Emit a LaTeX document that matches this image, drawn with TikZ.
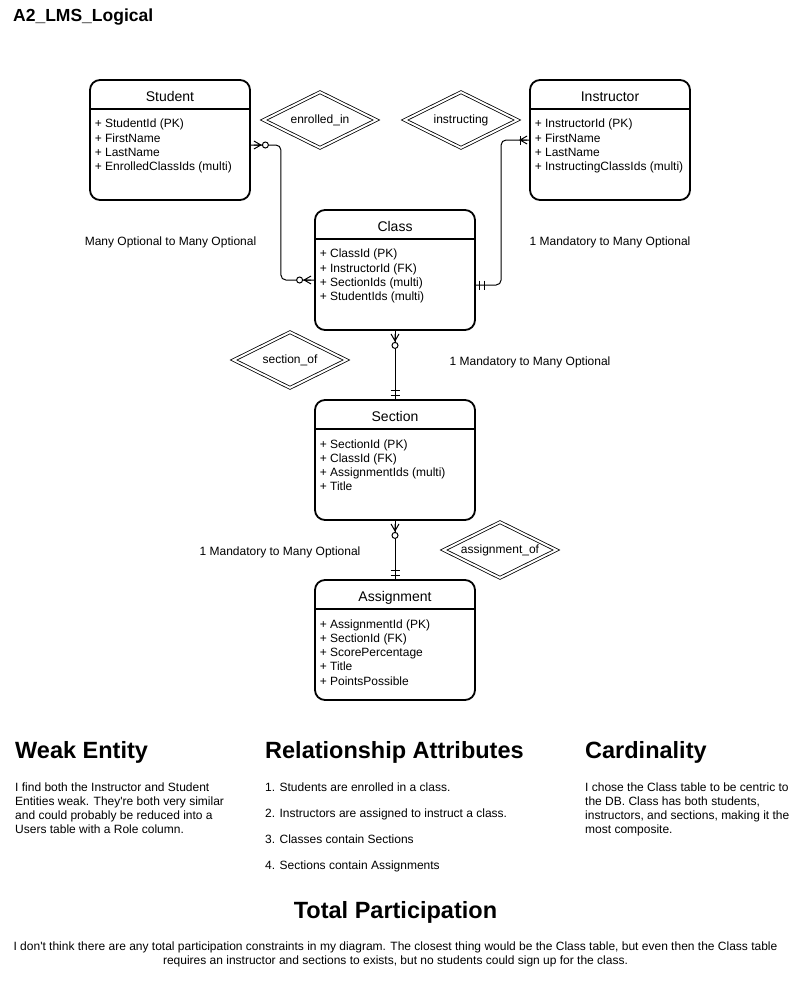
\documentclass[tikz,border=0pt]{standalone}
\usepackage{fontspec}
\setmainfont{Liberation Sans}
\usetikzlibrary{shapes.geometric}
\begin{document}
\begin{tikzpicture}[x=1pt,y=-1pt,
  entity/.style={draw, line width=1.8pt, rounded corners=10pt, minimum width=160pt, minimum height=120pt, inner sep=0},
  hdr/.style={line width=1.8pt},
  etitle/.style={font=\fontsize{14}{16.8}\selectfont, inner sep=0, anchor=base},
  attr/.style={font=\fontsize{12}{14.3}\selectfont, align=left, inner sep=0, anchor=north west},
  rel/.style={diamond, draw, double, double distance=2pt, line width=0.8pt, minimum width=113pt, minimum height=56pt, inner sep=0, aspect=2, font=\fontsize{12}{14.4}\selectfont},
  lbl/.style={font=\fontsize{12}{14.4}\selectfont, inner sep=0, anchor=base},
  conn/.style={line width=1pt, rounded corners=5pt},
  head/.style={font=\bfseries\fontsize{23.5}{28}\selectfont, inner sep=0, anchor=base west},
  body/.style={font=\fontsize{12}{14}\selectfont, align=left, inner sep=0, anchor=north west},
  item/.style={font=\fontsize{12}{14}\selectfont, inner sep=0, anchor=base west},
  zeromany/.pic={\draw[line width=1pt] (3,-4) -- (10,0) -- (3,4) (3,0) -- (10,0);
                 \draw[line width=1pt, fill=white] (14.5,0) circle (3);},
  onemany/.pic={\draw[line width=1pt] (2,-4) -- (9,0) -- (2,4) (2,0) -- (9,0);
                \draw[line width=1pt] (9,-4.5) -- (9,4.5);},
  mandone/.pic={\draw[line width=1pt] (4,-4.5) -- (4,4.5) (9,-4.5) -- (9,4.5);}
]
\useasboundingbox (0,0) rectangle (811,1001);

% title
\node[anchor=base west, font=\bfseries\fontsize{17.5}{21}\selectfont, inner sep=0] (title) at (13,21) {A2\_LMS\_Logical};

% entities
\node[entity] (student) at (170,140) {};
\draw[hdr] ([yshift=-30pt]student.north west) -- ([yshift=-30pt]student.north east);
\node[etitle] (studentT) at ([yshift=-22.5pt]student.north) {Student};
\node[attr] (studentA) at ([xshift=5.5pt,yshift=-40pt]student.north west) {+ StudentId (PK)\\+ FirstName\\+ LastName\\+ EnrolledClassIds (multi)};

\node[entity] (instructor) at (610,140) {};
\draw[hdr] ([yshift=-30pt]instructor.north west) -- ([yshift=-30pt]instructor.north east);
\node[etitle] (instructorT) at ([yshift=-22.5pt]instructor.north) {Instructor};
\node[attr] (instructorA) at ([xshift=5.5pt,yshift=-40pt]instructor.north west) {+ InstructorId (PK)\\+ FirstName\\+ LastName\\+ InstructingClassIds (multi)};

\node[entity] (class) at (395,270) {};
\draw[hdr] ([yshift=-30pt]class.north west) -- ([yshift=-30pt]class.north east);
\node[etitle] (classT) at ([yshift=-22.5pt]class.north) {Class};
\node[attr] (classA) at ([xshift=5.5pt,yshift=-40pt]class.north west) {+ ClassId (PK)\\+ InstructorId (FK)\\+ SectionIds (multi)\\+ StudentIds (multi)};

\node[entity] (section) at (395,460) {};
\draw[hdr] ([yshift=-30pt]section.north west) -- ([yshift=-30pt]section.north east);
\node[etitle] (sectionT) at ([yshift=-22.5pt]section.north) {Section};
\node[attr] (sectionA) at ([xshift=5.5pt,yshift=-40pt]section.north west) {+ SectionId (PK)\\+ ClassId (FK)\\+ AssignmentIds (multi)\\+ Title};

\node[entity] (assignment) at (395,640) {};
\draw[hdr] ([yshift=-30pt]assignment.north west) -- ([yshift=-30pt]assignment.north east);
\node[etitle] (assignmentT) at ([yshift=-22.5pt]assignment.north) {Assignment};
\node[attr] (assignmentA) at ([xshift=5.5pt,yshift=-40pt]assignment.north west) {+ AssignmentId (PK)\\+ SectionId (FK)\\+ ScorePercentage\\+ Title\\+ PointsPossible};

% relationships
\node[rel] (enrolled) at (320,120) {enrolled\_in};
\node[rel] (instructing) at (461,120) {instructing};
\node[rel] (sectionof) at (290,360) {section\_of};
\node[rel] (assignmentof) at (500,550) {assignment\_of};

% connectors
\draw[conn] ([yshift=-5pt]student.east) -- ++(30,0) |- ([yshift=-10pt]class.west);
\draw[conn] (instructor.west) -- ++(-28,0) |- ([yshift=-15pt]class.east);
\draw[conn] (class.south) -- (section.north);
\draw[conn] (section.south) -- (assignment.north);

\pic at ([yshift=-5pt]student.east) {zeromany};
\pic[rotate=180] at ([yshift=-10pt]class.west) {zeromany};
\pic[rotate=180] at (instructor.west) {onemany};
\pic at ([yshift=-15pt]class.east) {mandone};
\pic[rotate=-90] at (class.south) {zeromany};
\pic[rotate=90] at (section.north) {mandone};
\pic[rotate=-90] at (section.south) {zeromany};
\pic[rotate=90] at (assignment.north) {mandone};

% cardinality labels
\node[lbl] (l1) at (170.5,245.3) {Many Optional to Many Optional};
\node[lbl] (l2) at (610,245.3) {1 Mandatory to Many Optional};
\node[lbl] (l3) at (530,365.3) {1 Mandatory to Many Optional};
\node[lbl] (l4) at (280,555.3) {1 Mandatory to Many Optional};

% notes
\node[head] (h1) at (15,758) {Weak Entity};
\node[head] (h2) at (265,758) {Relationship Attributes};
\node[head] (h3) at (585,758) {Cardinality};

\node[body] (b1) at (15,782.6) {I find both the Instructor and Student\\Entities weak. They\textquotesingle re both very similar\\and could probably be reduced into a\\Users table with a Role column.};
\node[item] (r1) at (265,791.3) {1. Students are enrolled in a class.};
\node[item] (r2) at (265,817.3) {2. Instructors are assigned to instruct a class.};
\node[item] (r3) at (265,843.3) {3. Classes contain Sections};
\node[item] (r4) at (265,869.3) {4. Sections contain Assignments};
\node[body] (b3) at (585,782.6) {I chose the Class table to be centric to\\the DB. Class has both students,\\instructors, and sections, making it the\\most composite.};

\node[head, anchor=base] (h4) at (395.5,918) {Total Participation};
\node[body, align=center, anchor=north] (b4) at (395.5,941.5) {I don\textquotesingle t think there are any total participation constraints in my diagram. The closest thing would be the Class table, but even then the Class table\\requires an instructor and sections to exists, but no students could sign up for the class.};
\end{tikzpicture}
\end{document}
